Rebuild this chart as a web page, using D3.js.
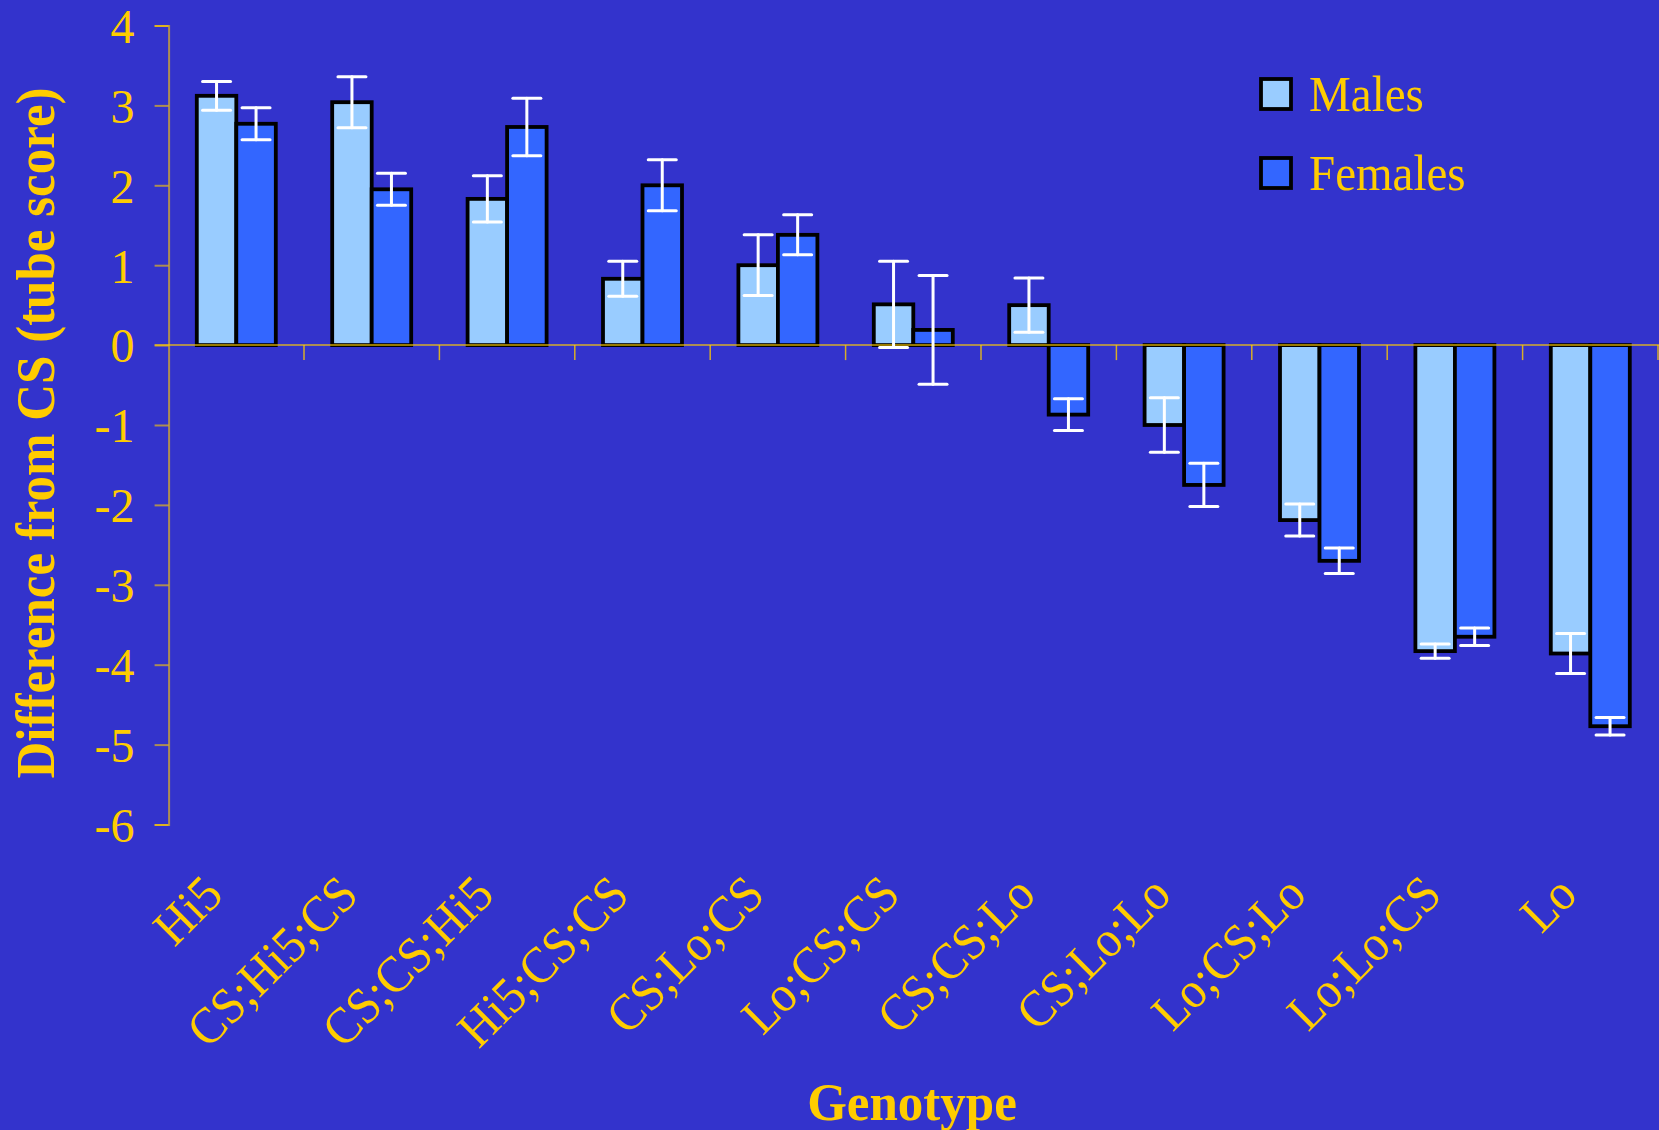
<!DOCTYPE html>
<html>
<head>
<meta charset="utf-8">
<script src="https://cdn.jsdelivr.net/npm/d3@7"></script>
<style>
  html, body { margin: 0; padding: 0; background: #3333CC; }
  svg { display: block; }
  text { font-family: "Liberation Serif", "Times New Roman", serif; fill: #FFCC00; }
</style>
</head>
<body>
<svg id="chart" width="1659" height="1130"></svg>
<script>
// Genotype differences from CS (tube score), mean ± error, by sex
const categories = ["Hi5", "CS;Hi5;CS", "CS;CS;Hi5", "Hi5;CS;CS", "CS;Lo;CS", "Lo;CS;CS",
                    "CS;CS;Lo", "CS;Lo;Lo", "Lo;CS;Lo", "Lo;Lo;CS", "Lo"];
const males      = [3.12, 3.04, 1.83, 0.83, 1.00, 0.51, 0.50, -1.00, -2.19, -3.83, -3.86];
const maleErr    = [0.18, 0.32, 0.29, 0.22, 0.38, 0.54, 0.34, 0.34, 0.20, 0.09, 0.25];
const females    = [2.77, 1.95, 2.73, 2.00, 1.38, 0.19, -0.87, -1.75, -2.70, -3.65, -4.77];
const femaleErr  = [0.20, 0.20, 0.36, 0.32, 0.25, 0.68, 0.20, 0.27, 0.16, 0.11, 0.11];
const seriesNames = ["Males", "Females"];
const yTicks = [4, 3, 2, 1, 0, -1, -2, -3, -4, -5, -6];

const colors = { Males: "#99CCFF", Females: "#3366FF" };
const axisColor = "#FFCC00";

const svg = d3.select("#chart");
svg.append("rect").attr("width", 1659).attr("height", 1130).attr("fill", "#3333CC");

const x0 = d3.scaleBand().domain(categories).range([168.6, 1658]).padding(0);
const bw = x0.bandwidth();
const x1 = d3.scaleBand().domain(seriesNames).range([bw / 2 - 39.5, bw / 2 + 39.5]).padding(0);
const y = d3.scaleLinear().domain([-6, 4]).range([824.5, 25.5]);

const rows = [];
categories.forEach((c, i) => {
  rows.push({ cat: c, series: "Males", v: males[i], e: maleErr[i] });
  rows.push({ cat: c, series: "Females", v: females[i], e: femaleErr[i] });
});

// y axis (plain hyphen for negative labels)
const yAxis = d3.axisLeft(y).tickValues(yTicks).tickSize(14).tickPadding(20).tickFormat(d => String(d));
const gy = svg.append("g").attr("transform", `translate(${x0.range()[0]},0)`).call(yAxis);
gy.select(".domain").attr("stroke", axisColor).attr("stroke-opacity", 0.6).attr("stroke-width", 2);
gy.selectAll(".tick line").attr("stroke", axisColor).attr("stroke-opacity", 0.6).attr("stroke-width", 2);
gy.selectAll(".tick text").attr("fill", "#FFCC00").attr("dy", "0.35em")
  .style("font-size", "48px").style("font-family", '"Liberation Serif", serif');

// bars
svg.append("g").selectAll("rect").data(rows).join("rect")
  .attr("x", d => x0(d.cat) + x1(d.series))
  .attr("width", x1.bandwidth())
  .attr("y", d => y(Math.max(0, d.v)))
  .attr("height", d => Math.abs(y(d.v) - y(0)))
  .attr("fill", d => colors[d.series])
  .attr("stroke", "#000")
  .attr("stroke-width", 3.8);

// zero baseline and category separators
const x0Axis = svg.append("g");
x0Axis.append("line")
  .attr("x1", x0.range()[0] - 14).attr("x2", 1659)
  .attr("y1", y(0)).attr("y2", y(0))
  .attr("stroke", axisColor).attr("stroke-opacity", 0.6).attr("stroke-width", 2);
x0Axis.selectAll("line.sep").data(categories).join("line")
  .attr("class", "sep")
  .attr("x1", d => x0(d) + bw).attr("x2", d => x0(d) + bw)
  .attr("y1", y(0)).attr("y2", y(0) + 15)
  .attr("stroke", axisColor).attr("stroke-opacity", 0.8).attr("stroke-width", 1.5);

// error bars
const eb = svg.append("g").attr("stroke", "#fff").attr("stroke-width", 3).attr("stroke-linecap", "round");
const cx = d => x0(d.cat) + x1(d.series) + x1.bandwidth() / 2;
eb.selectAll("line.v").data(rows).join("line").attr("class", "v")
  .attr("x1", cx).attr("x2", cx)
  .attr("y1", d => y(d.v + d.e)).attr("y2", d => y(d.v - d.e));
eb.selectAll("line.t").data(rows).join("line").attr("class", "t")
  .attr("x1", d => cx(d) - 14).attr("x2", d => cx(d) + 14)
  .attr("y1", d => y(d.v + d.e)).attr("y2", d => y(d.v + d.e));
eb.selectAll("line.b").data(rows).join("line").attr("class", "b")
  .attr("x1", d => cx(d) - 14).attr("x2", d => cx(d) + 14)
  .attr("y1", d => y(d.v - d.e)).attr("y2", d => y(d.v - d.e));

// category labels, slanted
svg.append("g").selectAll("text").data(categories).join("text")
  .attr("transform", d => `translate(${x0(d) + bw / 2 - 11},897) rotate(-45) scale(1,1.07)`)
  .attr("text-anchor", "end")
  .style("font-size", "48px")
  .text(d => d);

// axis titles
svg.append("text")
  .attr("transform", "translate(54,433) rotate(-90) scale(1,1.06)")
  .attr("text-anchor", "middle")
  .style("font-size", "51px").style("font-weight", "bold")
  .text("Difference from CS (tube score)");
svg.append("text")
  .attr("transform", "translate(912,1120) scale(1,1.04)")
  .attr("text-anchor", "middle")
  .style("font-size", "51px").style("font-weight", "bold")
  .text("Genotype");

// legend
const legend = svg.append("g").selectAll("g").data(seriesNames).join("g")
  .attr("transform", (d, i) => `translate(1261,${79 + i * 79})`);
legend.append("rect").attr("width", 30).attr("height", 30)
  .attr("fill", d => colors[d]).attr("stroke", "#000").attr("stroke-width", 3.8);
legend.append("text").attr("transform", "translate(48,32) scale(1,1.07)")
  .style("font-size", "47px").text(d => d);
</script>
</body>
</html>
